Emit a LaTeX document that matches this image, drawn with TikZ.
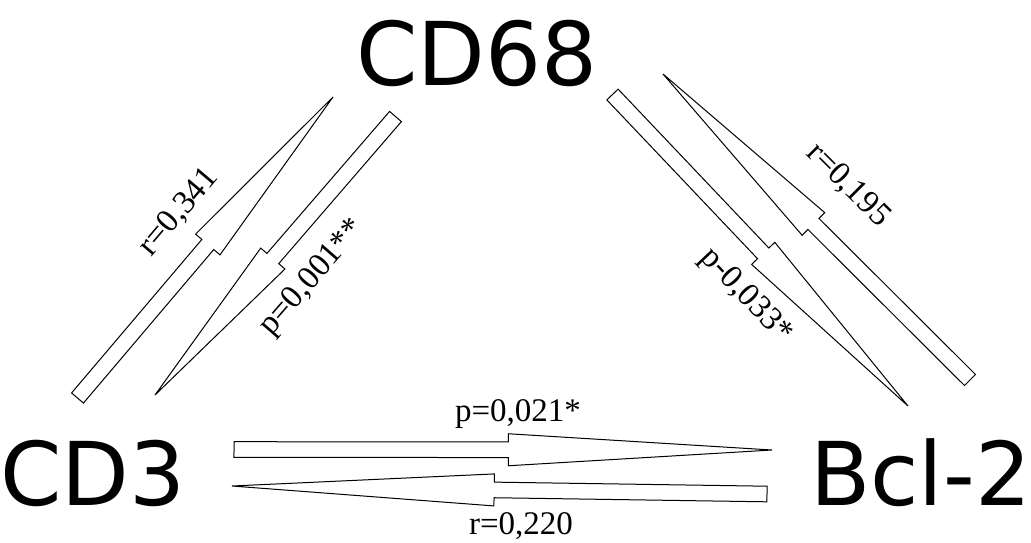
\documentclass[tikz,border=0pt]{standalone}
\usepackage{fontspec}
\newfontfamily\bigfont{DejaVu Sans}
\newfontfamily\labfont{Liberation Serif}
\usetikzlibrary{calc}
\tikzset{
  big/.style={font=\bigfont\fontsize{88}{96}\selectfont, inner sep=0pt},
  lab/.style={font=\labfont\fontsize{33}{36}\selectfont, inner sep=0pt},
  fat/.style={draw=black, line width=1pt, fill=white},
}
\newcommand\fatarrow[2]{%
  \coordinate (fs) at ($(#1)!0.51!(#2)$);
  \draw[fat] ($(#1)!7.8pt!90:(#2)$) -- ($(fs)!7.8pt!90:(#2)$) -- ($(fs)!16pt!90:(#2)$) -- (#2)
    -- ($(fs)!16pt!-90:(#2)$) -- ($(fs)!7.8pt!-90:(#2)$) -- ($(#1)!7.8pt!-90:(#2)$) -- cycle;}
\begin{document}
\begin{tikzpicture}[x=1pt,y=-1pt]
\useasboundingbox (0,0) rectangle (1031,542);
\node[big, anchor=base] (cd68) at (477,85) {CD68};
\node[big, anchor=base west] (cd3) at (0,505) {CD3};
\node[big, anchor=base west] (bcl) at (810,505) {Bcl-2};
% arrow ends
\coordinate (a1s) at (234,449.5); \coordinate (a1e) at (772,450);
\coordinate (a2s) at (767,494);   \coordinate (a2e) at (232,486);
\coordinate (a3s) at (77.5,398);  \coordinate (a3e) at (333,97);
\coordinate (a4s) at (395.5,116.5); \coordinate (a4e) at (155,395);
\coordinate (a5s) at (970,380);   \coordinate (a5e) at (663,74);
\coordinate (a6s) at (612.5,94.5); \coordinate (a6e) at (908,406);
\fatarrow{a1s}{a1e}
\fatarrow{a2s}{a2e}
\fatarrow{a3s}{a3e}
\fatarrow{a4s}{a4e}
\fatarrow{a5s}{a5e}
\fatarrow{a6s}{a6e}
% labels
\node[lab] (l1) at (518,414) {p=0,021*};
\node[lab] (l2) at (521,526) {r=0,220};
\node[lab, rotate=49.7] (l3) at (179,212) {r=0,341};
\node[lab, rotate=49] (l4) at (313,278) {p=0,001**};
\node[lab, rotate=-45] (l5) at (848,185) {r=0,195};
\node[lab, rotate=-46.5] (l6) at (746,296) {p-0,033*};
\end{tikzpicture}
\end{document}
